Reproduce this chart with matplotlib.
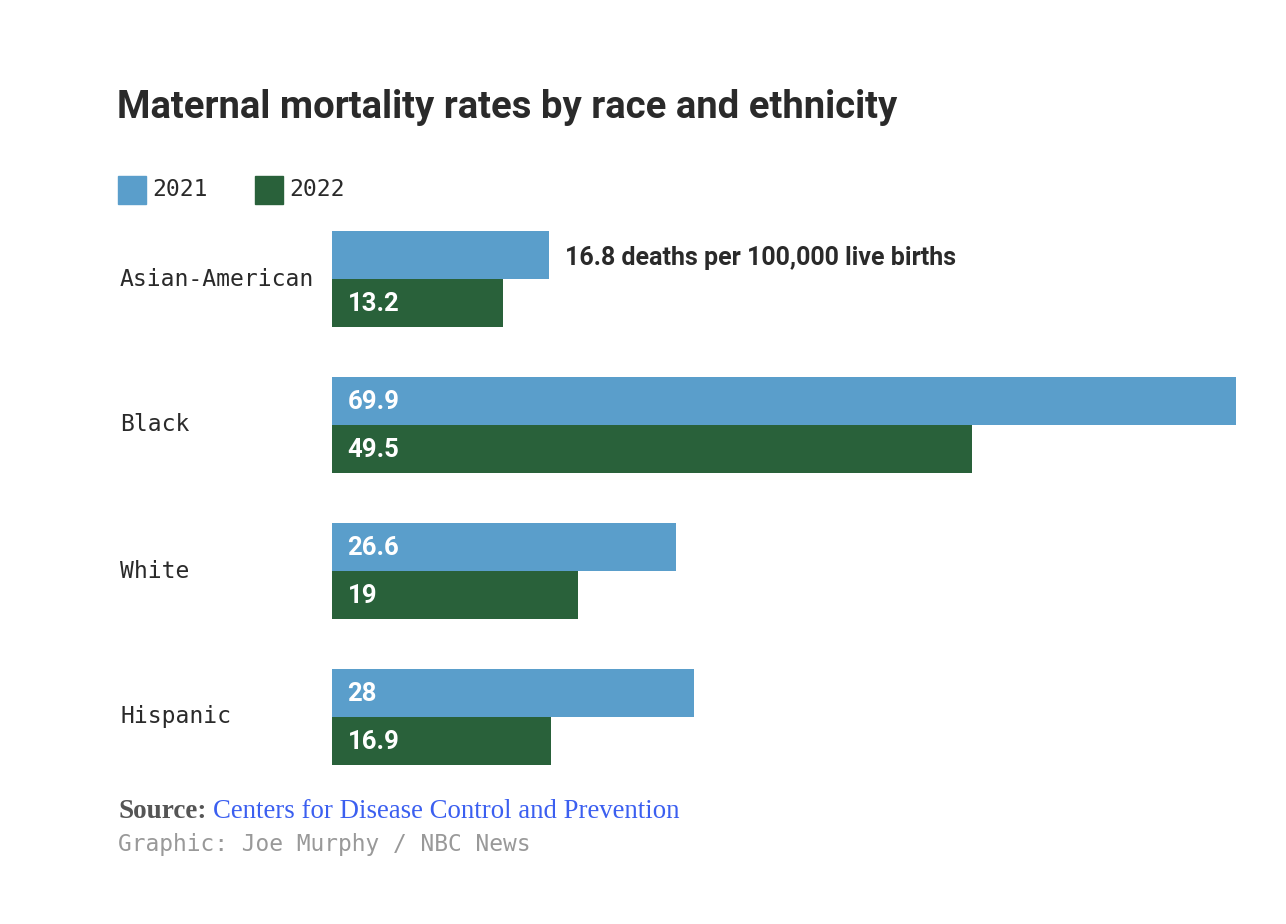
import matplotlib
matplotlib.use("Agg")
import matplotlib.pyplot as plt

# data
groups = ["Asian-American", "Black", "White", "Hispanic"]
years = ["2021", "2022"]
rate_2021 = [16.8, 69.9, 26.6, 28]
rate_2022 = [13.2, 49.5, 19, 16.9]
labels_2021 = ["", "69.9", "26.6", "28"]
labels_2022 = ["13.2", "49.5", "19", "16.9"]
note = "16.8 deaths per 100,000 live births"

blue = "#5a9ecb"
green = "#29613a"
dark = "#2a2a2a"
bold_font = "Roboto"
mono = "DejaVu Sans Mono"
serif = "Liberation Serif"

W, H = 1286, 924
fig = plt.figure(figsize=(W / 100, H / 100), dpi=100)
fig.patch.set_facecolor("white")

def fx(px):
    return px / W

def fy(py):
    return 1 - py / H

# bars axes: value 0 at x=332, 69.9 at x=1236
bh = 48 / 146
ax = fig.add_axes([fx(332), fy(765), fx(1236 - 332), (765 - 231) / H])
pos = list(range(len(groups)))
ax.barh([p - bh / 2 for p in pos], rate_2021, height=bh, color=blue)
ax.barh([p + bh / 2 for p in pos], rate_2022, height=bh, color=green)
ax.set_xlim(0, 69.9)
ax.set_ylim(3 + bh, -bh)
ax.axis("off")

for p, lab in zip(pos, labels_2021):
    if lab:
        ax.text(1.2, p - bh / 2 + 0.01, lab, color="white", fontsize=18.5, fontweight="bold",
                family=bold_font, va="center", ha="left")
for p, lab in zip(pos, labels_2022):
    ax.text(1.2, p + bh / 2 + 0.01, lab, color="white", fontsize=18.5, fontweight="bold",
            family=bold_font, va="center", ha="left")
ax.text(rate_2021[0] + 1.25, -bh / 2 + 0.02, note, color=dark, fontsize=18, fontweight="bold",
        family=bold_font, va="center", ha="left")

# category labels
for p, g in zip(pos, groups):
    fig.text(fx(120), fy(279 + 146 * p), g, family=mono, fontsize=16.6, color=dark,
             va="center", ha="left")

# title
fig.text(fx(117), fy(108), "Maternal mortality rates by race and ethnicity",
         family=bold_font, fontweight="bold", fontsize=27.5, color=dark,
         va="center", ha="left")

# legend
for x0, col, yr in [(118, blue, years[0]), (255, green, years[1])]:
    fig.patches.append(plt.Rectangle((fx(x0), fy(204)), 28 / W, 28 / H,
                                     transform=fig.transFigure, color=col))
    fig.text(fx(x0 + 34), fy(190), yr, family=mono, fontsize=16.6, color=dark,
             va="center", ha="left")

# footer
fig.text(fx(118), fy(811), "Source:", family=serif, fontweight="bold",
         fontsize=19.5, color="#555555", va="center", ha="left")
fig.text(fx(213), fy(811), "Centers for Disease Control and Prevention",
         family=serif, fontsize=19.3, color="#3b5ff0", va="center", ha="left")
fig.text(fx(118), fy(845), "Graphic: Joe Murphy / NBC News", family=mono,
         fontsize=16.5, color="#999999", va="center", ha="left")

fig.savefig("out.png", dpi=100)
